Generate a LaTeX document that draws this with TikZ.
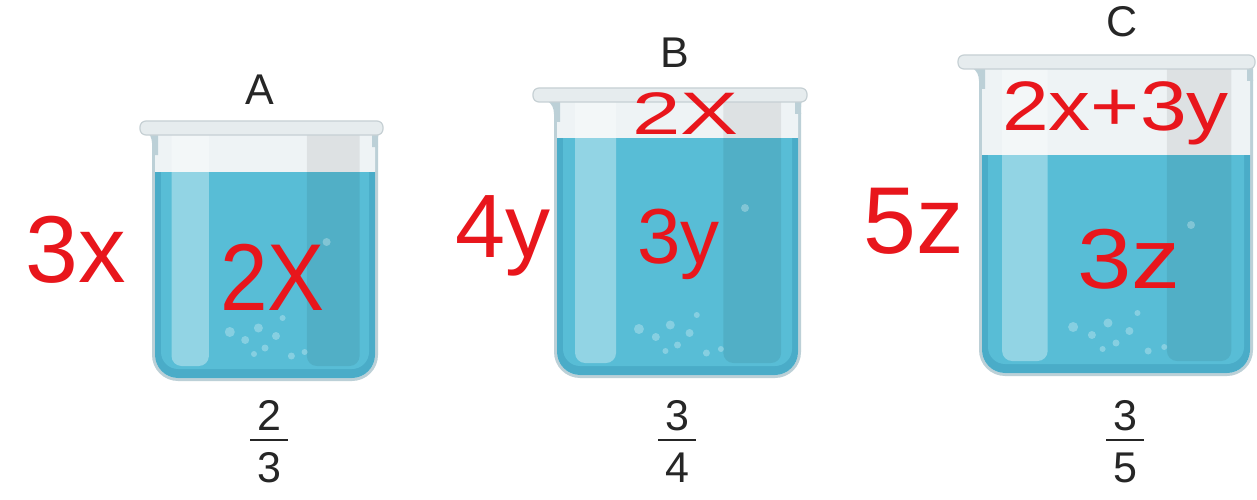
\documentclass[tikz,border=0pt]{standalone}
\usepackage{fontspec}
\setmainfont{Liberation Sans}

\definecolor{waterdark}{HTML}{4AACC8}
\definecolor{waterin}{HTML}{58BDD6}
\definecolor{glass}{HTML}{EEF3F5}
\definecolor{glassedge}{HTML}{BCD0D7}
\definecolor{rimfill}{HTML}{E6ECEE}
\definecolor{rimedge}{HTML}{C6D0D4}
\definecolor{ink}{HTML}{E8161C}
\definecolor{labelgray}{HTML}{262626}

% U-shaped outline with rounded bottom corners: left, right, top, bottom, radius
\newcommand\ushape[5]{(#1,#3) -- (#1,{#4-#5}) .. controls (#1,{#4-0.45*#5}) and ({#1+0.45*#5},#4) .. ({#1+#5},#4) -- ({#2-#5},#4) .. controls ({#2-0.45*#5},#4) and (#2,{#4-0.45*#5}) .. (#2,{#4-#5}) -- (#2,#3) -- cycle}

% beaker: body left, body right, rim left, rim right, rim top, water level, bottom
\newcommand\beaker[7]{%
  \pgfmathsetmacro\bW{#2-#1}%
  % glass wall and empty glass
  \fill[glassedge] \ushape{#1-3}{#2+3}{#5+8}{#7+3}{26};
  \fill[glass] \ushape{#1}{#2}{#5+8}{#7}{23};
  % liquid
  \fill[waterdark] \ushape{#1}{#2}{#6}{#7}{23};
  \fill[waterin] \ushape{#1+6}{#2-6}{#6}{#7-9}{17};
  % reflections
  \fill[white,opacity=.35] \ushape{#1+0.075*\bW}{#1+0.245*\bW}{#5+14}{#7-12}{10};
  \fill[black,opacity=.07] \ushape{#1+0.69*\bW}{#2-0.07*\bW}{#5+14}{#7-12}{10};
  % bubbles
  \foreach \u/\v/\r in {0.34/46/5,0.41/38/4,0.47/50/4.5,0.50/30/3.5,0.55/42/4,0.62/22/3.5,0.68/26/3,0.58/60/3,0.45/24/3}
    \fill[white,opacity=.28] ({#1+\u*\bW},{#7-\v}) circle (\r pt);
  \fill[white,opacity=.28] ({#1+0.78*\bW},{#6+70}) circle (4pt);
  % spout and lip
  \fill[glassedge] ({#3+2},{#5+8}) .. controls ({#1-1},{#5+13}) and ({#1-3},{#5+22}) .. ({#1-3},{#5+34}) -- ({#1+3},{#5+34}) -- ({#1+3},{#5+8}) -- cycle;
  \fill[glassedge] ({#4-2},{#5+8}) .. controls ({#2+2},{#5+13}) and ({#2+3},{#5+18}) .. ({#2+3},{#5+26}) -- ({#2-3},{#5+26}) -- ({#2-3},{#5+8}) -- cycle;
  \fill[rimfill,draw=rimedge,line width=1.2pt,rounded corners=6pt] (#3,#5) rectangle (#4,{#5+14});
}

\begin{document}
\begin{tikzpicture}[x=1pt,y=-1pt,
  lbl/.style={text=labelgray,font=\fontsize{43}{43}\selectfont,inner sep=0pt,anchor=base},
  hand/.style={text=ink,inner sep=0pt,anchor=base west},
  fracbar/.style={draw=labelgray,line width=2.6pt}]
\useasboundingbox (0,0) rectangle (1257,500);
\fill[white] (0,0) rectangle (1257,500);

% the three beakers
\beaker{155}{375}{140}{383}{121}{172}{378}
\beaker{557}{798}{533}{807}{88}{138}{375}
\beaker{982}{1250}{958}{1255}{55}{155}{373}

% beaker names
\node[lbl] (labA) at (260,105) {A};
\node[lbl] (labB) at (675,68) {B};
\node[lbl] (labC) at (1122,37) {C};

% fractions under the beakers
\node[lbl] (numA) at (269,430) {2};
\node[lbl] (denA) at (269,482) {3};
\coordinate (barAl) at (250,440); \coordinate (barAr) at (288,440);
\draw[fracbar] (barAl) -- (barAr);

\node[lbl] (numB) at (677,430) {3};
\node[lbl] (denB) at (677,482) {4};
\coordinate (barBl) at (658,440); \coordinate (barBr) at (696,440);
\draw[fracbar] (barBl) -- (barBr);

\node[lbl] (numC) at (1125,430) {3};
\node[lbl] (denC) at (1125,482) {5};
\coordinate (barCl) at (1106,440); \coordinate (barCr) at (1144,440);
\draw[fracbar] (barCl) -- (barCr);

% handwritten quantities
\node[hand,font=\fontsize{95}{95}\selectfont] (sideA) at (25,282) {3x};
\node[hand,font=\fontsize{95}{95}\selectfont,xscale=0.9] (inA) at (220,310) {2X};
\node[hand,font=\fontsize{90}{90}\selectfont] (sideB) at (455,257) {4y};
\node[hand,font=\fontsize{78}{78}\selectfont] (inB) at (637,263) {3y};
\node[hand,font=\fontsize{60}{60}\selectfont,xscale=1.45] (topB) at (632,135) {2X};
\node[hand,font=\fontsize{95}{95}\selectfont] (sideC) at (863,253) {5z};
\node[hand,font=\fontsize{85}{85}\selectfont,xscale=1.15] (inC) at (1077,288) {3z};
\node[hand,font=\fontsize{70}{70}\selectfont,xscale=1.2] (topC) at (1002,130) {2x+3y};
\end{tikzpicture}
\end{document}
